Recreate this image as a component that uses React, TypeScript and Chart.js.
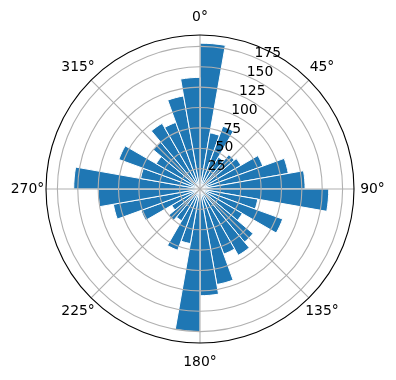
import React, { useEffect, useRef } from "react";
import { Chart, registerables } from "chart.js";

Chart.register(...registerables);

// 36 direction bins, 10° each, clockwise from north
const binStartDegrees: number[] = Array.from({ length: 36 }, (_, i) => i * 10);
const counts: number[] = [
  179, 70, 82, 45, 55, 58, 82, 110, 129,
  158, 72, 108, 60, 85, 94, 85, 119, 131,
  175, 68, 80, 45, 50, 40, 77, 108, 125,
  155, 74, 106, 62, 75, 93, 87, 116, 137,
];
const radialTicks: number[] = [25, 50, 75, 100, 125, 150, 175];
const angleTicks: number[] = [0, 45, 90, 135, 180, 225, 270, 315];
const radialMax = 189;

const FONT = "13.9px 'DejaVu Sans'";

const overlayPlugin = {
  id: "mplPolarOverlay",
  afterDatasetsDraw(chart: any) {
    const s = chart.scales.r;
    const ctx = chart.ctx as CanvasRenderingContext2D;
    const cx = s.xCenter;
    const cy = s.yCenter;
    const R = s.drawingArea;
    ctx.save();
    // grid circles
    ctx.strokeStyle = "#b0b0b0";
    ctx.lineWidth = 1.1;
    for (const v of radialTicks) {
      const r = s.getDistanceFromCenterForValue(v);
      ctx.beginPath();
      ctx.arc(cx, cy, r, 0, Math.PI * 2);
      ctx.stroke();
    }
    // angle grid lines
    for (const a of angleTicks) {
      const t = (a * Math.PI) / 180;
      ctx.beginPath();
      ctx.moveTo(cx, cy);
      ctx.lineTo(cx + R * Math.sin(t), cy - R * Math.cos(t));
      ctx.stroke();
    }
    // outer spine
    ctx.strokeStyle = "#000";
    ctx.lineWidth = 1.1;
    ctx.beginPath();
    ctx.arc(cx, cy, R, 0, Math.PI * 2);
    ctx.stroke();
    // radial tick labels at 22.5°
    ctx.fillStyle = "#000";
    ctx.font = FONT;
    ctx.textAlign = "left";
    ctx.textBaseline = "alphabetic";
    const lt = (22.5 * Math.PI) / 180;
    for (const v of radialTicks) {
      const r = s.getDistanceFromCenterForValue(v);
      ctx.fillText(String(v), cx + r * Math.sin(lt), cy - r * Math.cos(lt));
    }
    // angle labels
    ctx.textAlign = "center";
    ctx.textBaseline = "middle";
    const lr = R + 18.5;
    for (const a of angleTicks) {
      const t = (a * Math.PI) / 180;
      ctx.fillText(a + "°", cx + lr * Math.sin(t), cy + 0.5 - lr * Math.cos(t));
    }
    ctx.restore();
  },
};

export default function App() {
  const ref = useRef<HTMLCanvasElement | null>(null);
  useEffect(() => {
    if (!ref.current) return;
    const chart = new Chart(ref.current, {
      type: "polarArea",
      data: {
        labels: binStartDegrees.map((d) => d + "°"),
        datasets: [
          {
            data: counts,
            backgroundColor: "#1f77b4",
            borderColor: "#ffffff",
            borderWidth: 1,
          },
        ],
      },
      options: {
        responsive: false,
        animation: false,
        layout: { padding: { left: 46, right: 42, top: 35, bottom: 37 } },
        plugins: { legend: { display: false }, tooltip: { enabled: false } },
        scales: {
          r: {
            min: 0,
            max: radialMax,
            startAngle: 0,
            ticks: { display: false, stepSize: 25 },
            grid: { display: false },
            angleLines: { display: false },
            pointLabels: { display: false },
          },
        },
      },
      plugins: [overlayPlugin],
    });
    return () => chart.destroy();
  }, []);
  return (
    <div style={{ position: "fixed", left: 0, top: 0, width: 396, height: 380, background: "#fff" }}>
      <canvas ref={ref} width={396} height={380} style={{ display: "block" }} />
    </div>
  );
}
